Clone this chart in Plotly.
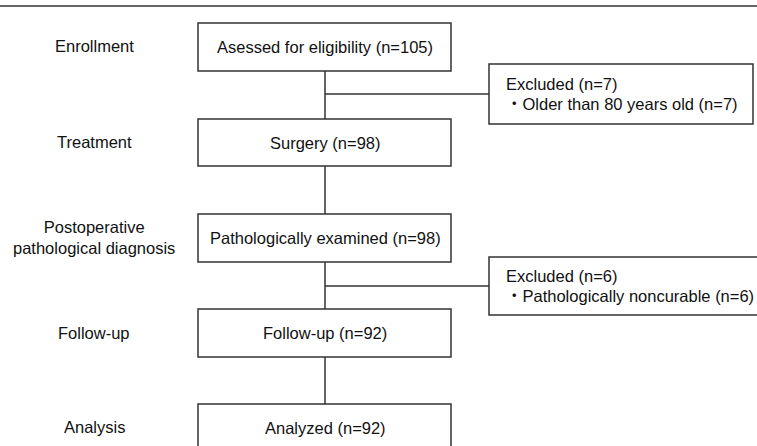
import plotly.graph_objects as go

# ---- content ----
stage_labels = ["Enrollment", "Treatment", "Postoperative<br>pathological diagnosis", "Follow-up", "Analysis"]
box_texts = ["Asessed for eligibility", "Surgery", "Pathologically examined", "Follow-up", "Analyzed"]
box_counts = [105, 98, 98, 92, 92]
excluded_counts = [7, 6]
excluded_reasons = ["Older than 80 years old", "Pathologically noncurable"]

# ---- layout geometry (pixels, y down) ----
W, H = 757, 446
box_x0, box_x1 = 198, 451
box_tops = [23, 119, 214, 309, 404]
box_bots = [71, 166, 262, 357, 455]
center_x = 325
stage_x = 94
stage_y = [46, 142, 237, 333, 427]
excl_x0, excl_x1 = 489, 753
excl_x1_b = 770
excl_tops = [64, 257]
excl_bots = [124, 315]
branch_y = [94, 286]
excl_text_x = 504

LC = "#333333"
FONT = "Liberation Sans, Arial, Noto Sans CJK JP, sans-serif"
FS = 16.5

fig = go.Figure()
fig.add_trace(go.Scatter(x=[0, W], y=[0, H], mode="markers", marker=dict(opacity=0), hoverinfo="skip", showlegend=False))

shapes = []
shapes.append(dict(type="line", x0=0, x1=W, y0=6, y1=6, line=dict(color=LC, width=1.5)))
for i in range(len(box_tops) - 1):
    shapes.append(dict(type="line", x0=center_x, x1=center_x, y0=box_bots[i], y1=box_tops[i + 1],
                       line=dict(color=LC, width=1.5)))
for by in branch_y:
    shapes.append(dict(type="line", x0=center_x, x1=excl_x0, y0=by, y1=by, line=dict(color=LC, width=1.5)))
for t, b in zip(box_tops, box_bots):
    shapes.append(dict(type="rect", x0=box_x0, x1=box_x1, y0=t, y1=b, fillcolor="white",
                       line=dict(color=LC, width=1.5)))
for i, (t, b) in enumerate(zip(excl_tops, excl_bots)):
    shapes.append(dict(type="rect", x0=excl_x0, x1=(excl_x1 if i == 0 else excl_x1_b), y0=t, y1=b,
                       fillcolor="white", line=dict(color=LC, width=1.5)))

annotations = []
for lbl, y in zip(stage_labels, stage_y):
    annotations.append(dict(x=stage_x, y=y, text=lbl, showarrow=False, xanchor="center", yanchor="middle",
                            align="center", font=dict(family=FONT, size=FS, color="#111")))
for txt, n, t, b in zip(box_texts, box_counts, box_tops, box_bots):
    yc = (t + min(b, t + 48)) / 2
    annotations.append(dict(x=center_x, y=yc, text=f"{txt} (n={n})", showarrow=False, xanchor="center",
                            yanchor="middle", font=dict(family=FONT, size=FS, color="#111")))
for i, (n, r) in enumerate(zip(excluded_counts, excluded_reasons)):
    t, b = excl_tops[i], excl_bots[i]
    yc = (t + b) / 2
    annotations.append(dict(x=excl_text_x, y=yc - 10, text=f"Excluded (n={n})", showarrow=False, xanchor="left",
                            yanchor="middle", font=dict(family=FONT, size=FS, color="#111")))
    annotations.append(dict(x=excl_text_x, y=yc + 10, text=f"・{r} (n={n})", showarrow=False, xanchor="left",
                            yanchor="middle", font=dict(family=FONT, size=FS, color="#111")))

fig.update_layout(
    width=W, height=H, margin=dict(l=0, r=0, t=0, b=0),
    paper_bgcolor="white", plot_bgcolor="white",
    xaxis=dict(range=[0, W], visible=False, fixedrange=True),
    yaxis=dict(range=[H, 0], visible=False, fixedrange=True),
    shapes=shapes, annotations=annotations, showlegend=False,
)
fig.write_html("out.html", post_script="document.body.style.margin='0';document.body.style.overflow='hidden';",
               config={"displayModeBar": False})
